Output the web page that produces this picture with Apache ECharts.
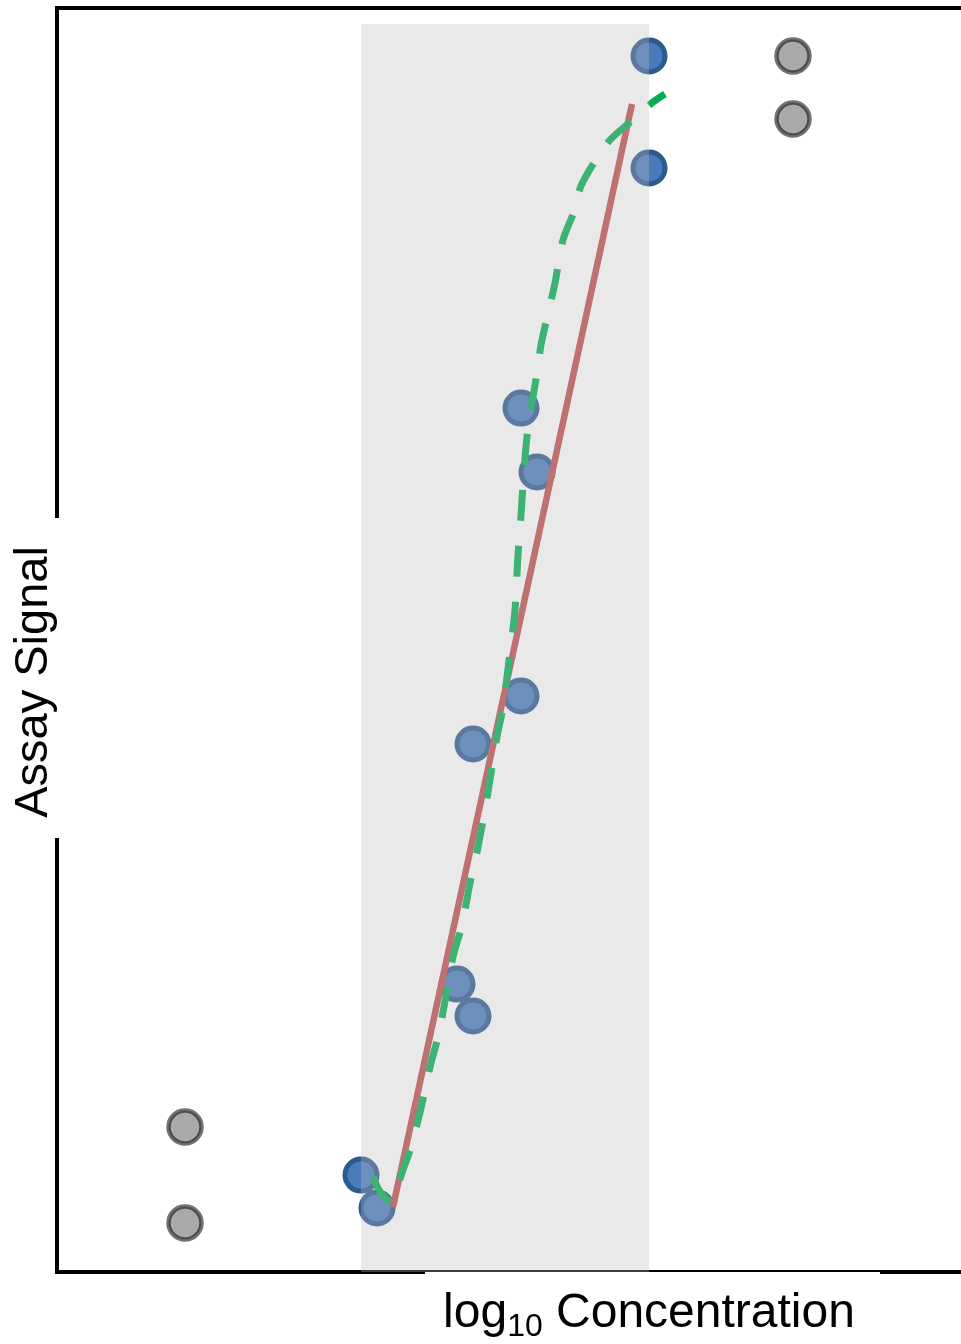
<!DOCTYPE html>
<html>
<head>
<meta charset="utf-8">
<script src="https://cdn.jsdelivr.net/npm/echarts@6/dist/echarts.min.js"></script>
<style>
html,body{margin:0;padding:0;background:#fff;}
#chart{width:961px;height:1344px;}
</style>
</head>
<body>
<div id="chart"></div>
<script>
// ---- data (arbitrary units: x = log10 concentration, y = assay signal) ----
const blueX = [3.04, 3.20, 4.00, 4.16, 4.16, 4.64, 4.64, 4.80, 5.92, 5.92];
const blueY = [7.67, 5.06, 22.78, 20.25, 41.77, 45.57, 68.35, 63.29, 96.20, 87.34];
const grayX = [1.28, 1.28, 7.36, 7.36];
const grayY = [11.47, 3.88, 96.20, 91.22];
const linFitX = [3.36, 5.75];
const linFitY = [5.14, 92.41];
const curveX = [3.16, 3.22, 3.28, 3.35, 3.40, 3.44, 3.54, 3.64, 3.73, 3.81, 3.89, 3.96, 4.05, 4.13, 4.21, 4.31, 4.40, 4.46, 4.53, 4.58, 4.61, 4.64, 4.67, 4.71, 4.75, 4.80, 4.84, 4.90, 4.98, 5.06, 5.18, 5.24, 5.40, 5.54, 5.78, 5.96, 6.08];
const curveY = [7.52, 6.49, 5.85, 5.54, 6.33, 7.59, 9.89, 12.97, 16.22, 18.59, 21.84, 24.92, 27.45, 30.78, 33.62, 37.97, 42.33, 44.70, 49.05, 52.37, 56.72, 59.89, 63.45, 66.77, 68.75, 71.12, 73.34, 75.47, 78.24, 81.65, 84.10, 85.92, 88.13, 89.64, 91.30, 92.56, 93.20];
const bandRange = [3.04, 5.92, 0, 98.73]; // x0, x1, y0, y1
const xRange = [0, 9.04];
const yRange = [0, 100];
const xLabel = ['log', '10', ' Concentration'];
const yLabel = 'Assay Signal';

const zip = (a, b) => a.map((v, i) => [v, b[i]]);

const chart = echarts.init(document.getElementById('chart'), null, {renderer: 'canvas'});
const font = '"Liberation Sans", Arial, Helvetica, sans-serif';
const frame = {show: true, lineStyle: {color: '#000', width: 4, cap: 'square'}};
const hidden = {axisTick: {show: false}, axisLabel: {show: false}, splitLine: {show: false}};

chart.setOption({
  animation: false,
  backgroundColor: '#ffffff',
  grid: {left: 57, top: 8, right: 0, bottom: 72, show: false},
  xAxis: [
    Object.assign({type: 'value', position: 'bottom', min: xRange[0], max: xRange[1], axisLine: frame}, hidden),
    Object.assign({type: 'value', position: 'top', min: xRange[0], max: xRange[1], axisLine: frame}, hidden)
  ],
  yAxis: Object.assign({type: 'value', position: 'left', min: yRange[0], max: yRange[1], axisLine: frame}, hidden),
  series: [
    {
      type: 'scatter', name: 'excluded', z: 2,
      data: zip(grayX, grayY), symbolSize: 33,
      itemStyle: {color: '#AAAAAA', borderColor: 'rgba(0,0,0,0.55)', borderWidth: 4.5, opacity: 1}
    },
    {
      type: 'scatter', name: 'included', z: 2,
      data: zip(blueX, blueY), symbolSize: 32,
      itemStyle: {color: '#4A7CBD', borderColor: '#2E5A8E', borderWidth: 5, opacity: 1}
    },
    {
      type: 'line', name: 'linear', z: 3,
      data: zip(linFitX, linFitY), showSymbol: false, symbol: 'none',
      lineStyle: {color: '#C0504D', width: 6.5, cap: 'butt'}
    },
    {
      type: 'line', name: 'curve', z: 4,
      data: zip(curveX, curveY), showSymbol: false, symbol: 'none', smooth: 0.3,
      lineStyle: {color: '#00B050', width: 7, type: [31, 25], cap: 'butt'}
    },
    {
      type: 'custom', name: 'range', z: 10, silent: true,
      data: [bandRange],
      renderItem: function (params, api) {
        const p0 = api.coord([api.value(0), api.value(3)]);
        const p1 = api.coord([api.value(1), api.value(2)]);
        return {
          type: 'rect',
          shape: {x: p0[0], y: p0[1], width: p1[0] - p0[0], height: p1[1] - p0[1]},
          style: {fill: 'rgba(187,187,187,0.32)'}
        };
      }
    }
  ],
  graphic: [
    {type: 'rect', z: 100, silent: true, shape: {x: 45, y: 518, width: 20, height: 320}, style: {fill: '#fff'}},
    {type: 'rect', z: 100, silent: true, shape: {x: 425, y: 1272, width: 455, height: 6}, style: {fill: '#fff'}},
    {
      type: 'text', z: 101, silent: true, x: 34, y: 682, rotation: Math.PI / 2,
      style: {text: yLabel, font: '47px ' + font, fill: '#000', align: 'center', verticalAlign: 'middle'}
    },
    {
      type: 'text', z: 101, silent: true, x: 649, y: 1314,
      style: {
        text: '{m|' + xLabel[0] + '}{s|' + xLabel[1] + '}{m|' + xLabel[2] + '}',
        align: 'center', verticalAlign: 'middle', fill: '#000',
        rich: {
          m: {fontSize: 48, fontFamily: font, lineHeight: 58, verticalAlign: 'middle', fill: '#000'},
          s: {fontSize: 32, fontFamily: font, verticalAlign: 'bottom', fill: '#000'}
        }
      }
    }
  ]
});
</script>
</body>
</html>
